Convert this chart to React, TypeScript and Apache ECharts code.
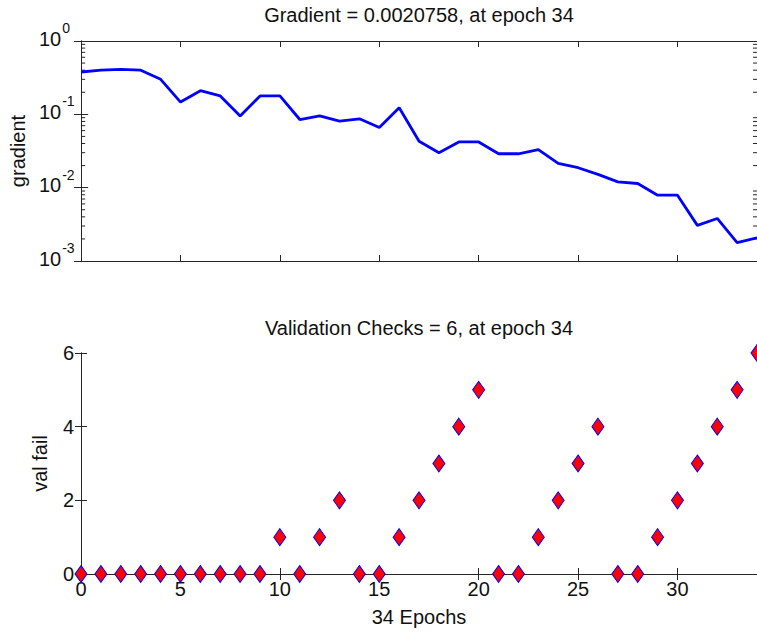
import React, { useEffect, useRef } from "react";
import * as echarts from "echarts";

const epochs = [0,1,2,3,4,5,6,7,8,9,10,11,12,13,14,15,16,17,18,19,20,21,22,23,24,25,26,27,28,29,30,31,32,33,34];
const gradient = [0.378,0.40,0.41,0.40,0.30,0.147,0.21,0.178,0.095,0.178,0.178,0.085,0.095,0.081,0.087,0.066,0.123,0.043,0.030,0.042,0.042,0.029,0.029,0.033,0.0215,0.0187,0.0152,0.012,0.0114,0.0079,0.0079,0.00306,0.0038,0.00178,0.0020758];
const valFail = [0,0,0,0,0,0,0,0,0,0,1,0,1,2,0,0,1,2,3,4,5,0,0,1,2,3,4,0,0,1,2,3,4,5,6];
const gradTitle = "Gradient = 0.0020758, at epoch 34";
const valTitle = "Validation Checks = 6, at epoch 34";
const xName = "34 Epochs";
const gradName = "gradient";
const valName = "val fail";
const minorTickValues: number[] = [];
[0.001, 0.01, 0.1].forEach((d) => { for (let k = 2; k <= 9; k++) minorTickValues.push(d * k); });

const FONT = "Liberation Sans, Arial, Helvetica, sans-serif";
const TXT = "#111111";
const AX = "#262626";
const FS = 20;

export default function App() {
  const ref = useRef<HTMLDivElement>(null);
  useEffect(() => {
    if (!ref.current) return;
    const chart = echarts.init(ref.current, null, { renderer: "svg" });
    const axLine = { show: true, lineStyle: { color: AX, width: 1 } };
    const tick = { show: true, inside: true, length: 6, lineStyle: { color: AX } };
    const lbl = { color: TXT, fontSize: FS, fontFamily: FONT };
    const L = 81, W = 676;
    const logBase = { type: "log", logBase: 10, gridIndex: 0, min: 0.001, max: 1, splitLine: { show: false } };
    const option: any = {
      animation: false,
      textStyle: { fontFamily: FONT },
      grid: [
        { left: L, top: 41, width: W, height: 220, containLabel: false },
        { left: L, top: 353, width: W, height: 221, containLabel: false },
      ],
      xAxis: [
        { type: "value", gridIndex: 0, min: 0, max: 34, interval: 5, position: "bottom", axisLine: axLine, axisTick: tick, axisLabel: { show: false }, splitLine: { show: false } },
        { type: "value", gridIndex: 0, min: 0, max: 34, interval: 5, position: "top", axisLine: axLine, axisTick: tick, axisLabel: { show: false }, splitLine: { show: false } },
        { type: "value", gridIndex: 1, min: 0, max: 34, interval: 5, position: "bottom", axisLine: axLine, axisTick: tick,
          axisLabel: { ...lbl, margin: 5, showMaxLabel: false, formatter: (v: number) => (v % 5 === 0 ? String(v) : "") },
          splitLine: { show: false }, name: xName, nameLocation: "middle", nameGap: 33, nameTextStyle: { ...lbl } },
        { type: "value", gridIndex: 1, min: 0, max: 34, interval: 5, position: "top", axisLine: axLine, axisTick: tick, axisLabel: { show: false }, splitLine: { show: false } },
      ],
      yAxis: [
        { ...logBase, position: "left", axisLine: axLine,
          axisTick: { ...tick, length: 7 },
          axisLabel: { ...lbl, margin: 20, verticalAlign: "bottom", lineHeight: 5, formatter: () => "10" },
          name: gradName, nameLocation: "middle", nameGap: 53, nameTextStyle: { ...lbl } },
        { ...logBase, position: "right", axisLine: axLine, axisTick: { ...tick, length: 7 }, axisLabel: { show: false } },
        { type: "value", gridIndex: 1, min: 0, max: 6, interval: 2, position: "left", axisLine: axLine, axisTick: tick,
          axisLabel: { ...lbl, margin: 7 }, splitLine: { show: false },
          name: valName, nameLocation: "middle", nameGap: 31, nameTextStyle: { ...lbl } },
        { type: "value", gridIndex: 1, min: 0, max: 6, interval: 2, position: "right", axisLine: axLine, axisTick: tick, axisLabel: { show: false }, splitLine: { show: false } },
        { ...logBase, position: "left", axisLine: { show: false }, axisTick: { show: false },
          axisLabel: { color: TXT, fontFamily: FONT, fontSize: 14, margin: 19, align: "left", verticalAlign: "bottom", lineHeight: 26,
            formatter: (v: number) => String(Math.round(Math.log10(v))) } },
      ],
      graphic: [
        { type: "text", x: 419, y: 15, style: { text: gradTitle, fontSize: FS, fill: TXT, fontFamily: FONT, textAlign: "center", textVerticalAlign: "middle" } },
        { type: "text", x: 419, y: 328, style: { text: valTitle, fontSize: FS, fill: TXT, fontFamily: FONT, textAlign: "center", textVerticalAlign: "middle" } },
      ],
      series: [
        {
          type: "custom", xAxisIndex: 0, yAxisIndex: 0, silent: true,
          data: minorTickValues.map((v) => [0, v]),
          renderItem: (params: any, api: any) => {
            const v = api.value(1);
            const a = api.coord([0, v]);
            const b = api.coord([34, v]);
            return {
              type: "group",
              children: [
                { type: "line", shape: { x1: a[0], y1: a[1], x2: a[0] + 4, y2: a[1] }, style: { stroke: AX, lineWidth: 1 } },
                { type: "line", shape: { x1: b[0] - 4, y1: b[1], x2: b[0], y2: b[1] }, style: { stroke: AX, lineWidth: 1 } },
              ],
            };
          },
        },
        {
          type: "line", xAxisIndex: 0, yAxisIndex: 0, showSymbol: false, symbol: "none",
          data: epochs.map((e, i) => [e, gradient[i]]),
          lineStyle: { color: "#0000ff", width: 2.8 }, itemStyle: { color: "#0000ff" },
        },
        {
          type: "scatter", xAxisIndex: 2, yAxisIndex: 2, symbol: "diamond", symbolSize: [12, 17], clip: false, z: 5,
          data: epochs.map((e, i) => [e, valFail[i]]),
          itemStyle: { color: "#ff0000", borderColor: "#0000ff", borderWidth: 1, opacity: 1 },
        },
      ],
    };
    chart.setOption(option);
    return () => chart.dispose();
  }, []);
  return <div ref={ref} style={{ position: "fixed", left: 0, top: 0, width: 757, height: 633, background: "#fff" }} />;
}
